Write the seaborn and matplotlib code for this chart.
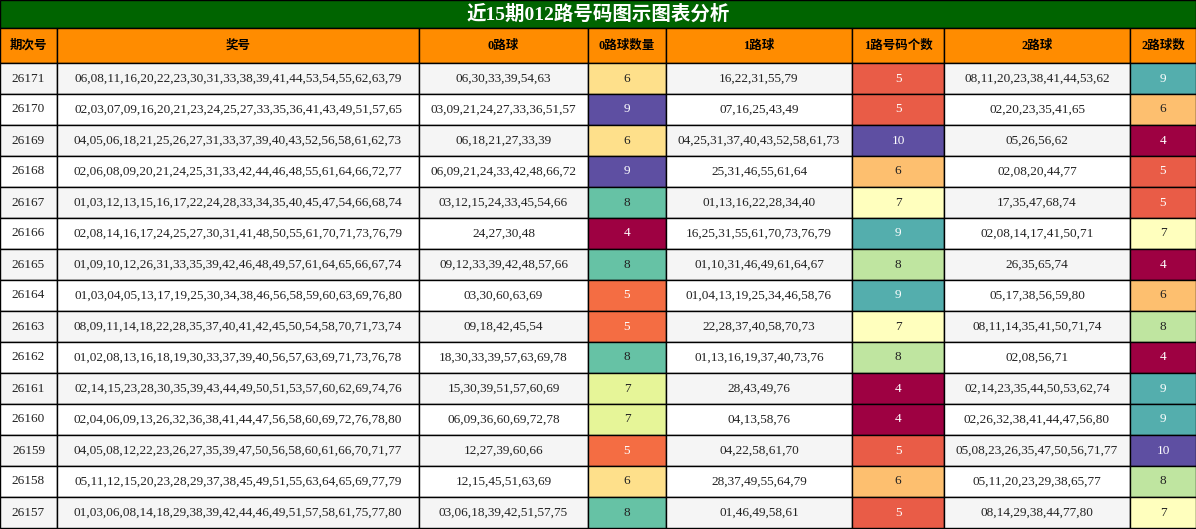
import numpy as np
import matplotlib
matplotlib.use("Agg")
import matplotlib.pyplot as plt
import seaborn as sns
from matplotlib.patches import Rectangle
from matplotlib.colors import Normalize

issues = [26171, 26170, 26169, 26168, 26167, 26166, 26165, 26164, 26163, 26162, 26161, 26160, 26159, 26158, 26157]
draws = [
    "06,08,11,16,20,22,23,30,31,33,38,39,41,44,53,54,55,62,63,79",
    "02,03,07,09,16,20,21,23,24,25,27,33,35,36,41,43,49,51,57,65",
    "04,05,06,18,21,25,26,27,31,33,37,39,40,43,52,56,58,61,62,73",
    "02,06,08,09,20,21,24,25,31,33,42,44,46,48,55,61,64,66,72,77",
    "01,03,12,13,15,16,17,22,24,28,33,34,35,40,45,47,54,66,68,74",
    "02,08,14,16,17,24,25,27,30,31,41,48,50,55,61,70,71,73,76,79",
    "01,09,10,12,26,31,33,35,39,42,46,48,49,57,61,64,65,66,67,74",
    "01,03,04,05,13,17,19,25,30,34,38,46,56,58,59,60,63,69,76,80",
    "08,09,11,14,18,22,28,35,37,40,41,42,45,50,54,58,70,71,73,74",
    "01,02,08,13,16,18,19,30,33,37,39,40,56,57,63,69,71,73,76,78",
    "02,14,15,23,28,30,35,39,43,44,49,50,51,53,57,60,62,69,74,76",
    "02,04,06,09,13,26,32,36,38,41,44,47,56,58,60,69,72,76,78,80",
    "04,05,08,12,22,23,26,27,35,39,47,50,56,58,60,61,66,70,71,77",
    "05,11,12,15,20,23,28,29,37,38,45,49,51,55,63,64,65,69,77,79",
    "01,03,06,08,14,18,29,38,39,42,44,46,49,51,57,58,61,75,77,80",
]
road0 = ["06,30,33,39,54,63", "03,09,21,24,27,33,36,51,57", "06,18,21,27,33,39", "06,09,21,24,33,42,48,66,72",
         "03,12,15,24,33,45,54,66", "24,27,30,48", "09,12,33,39,42,48,57,66", "03,30,60,63,69", "09,18,42,45,54",
         "18,30,33,39,57,63,69,78", "15,30,39,51,57,60,69", "06,09,36,60,69,72,78", "12,27,39,60,66",
         "12,15,45,51,63,69", "03,06,18,39,42,51,57,75"]
road1 = ["16,22,31,55,79", "07,16,25,43,49", "04,25,31,37,40,43,52,58,61,73", "25,31,46,55,61,64",
         "01,13,16,22,28,34,40", "16,25,31,55,61,70,73,76,79", "01,10,31,46,49,61,64,67", "01,04,13,19,25,34,46,58,76",
         "22,28,37,40,58,70,73", "01,13,16,19,37,40,73,76", "28,43,49,76", "04,13,58,76", "04,22,58,61,70",
         "28,37,49,55,64,79", "01,46,49,58,61"]
road2 = ["08,11,20,23,38,41,44,53,62", "02,20,23,35,41,65", "05,26,56,62", "02,08,20,44,77", "17,35,47,68,74",
         "02,08,14,17,41,50,71", "26,35,65,74", "05,17,38,56,59,80", "08,11,14,35,41,50,71,74", "02,08,56,71",
         "02,14,23,35,44,50,53,62,74", "02,26,32,38,41,44,47,56,80", "05,08,23,26,35,47,50,56,71,77",
         "05,11,20,23,29,38,65,77", "08,14,29,38,44,77,80"]
count0 = [6, 9, 6, 9, 8, 4, 8, 5, 5, 8, 7, 7, 5, 6, 8]
count1 = [5, 5, 10, 6, 7, 9, 8, 9, 7, 8, 4, 4, 5, 6, 5]
count2 = [9, 6, 4, 5, 5, 7, 4, 6, 8, 4, 9, 9, 10, 8, 7]
headers = ["期次号", "奖号", "0路球", "0路球数量", "1路球", "1路号码个数", "2路球", "2路球数"]
title = "近15期012路号码图示图表分析"

W, H = 1196, 529
edges = [0, 57, 419, 588, 666, 852, 944, 1130, 1196]
fam = ["Liberation Serif", "Noto Sans CJK SC"]
cmap = sns.color_palette("Spectral", as_cmap=True)

fig = plt.figure(figsize=(W / 100, H / 100), dpi=100)
ax = fig.add_axes([0, 0, 1, 1])
ax.set_xlim(0, W)
ax.set_ylim(H, 0)
ax.axis("off")

lw = 1.0
ax.add_patch(Rectangle((0, 0), W, 28, facecolor="#006400", edgecolor="black", lw=lw))
ax.text(W / 2, 14, title, ha="center", va="center", color="white", fontsize=14, fontweight="bold", family=fam)

hy, hh = 28, 35
for i, h in enumerate(headers):
    x0, x1 = edges[i], edges[i + 1]
    ax.add_patch(Rectangle((x0, hy), x1 - x0, hh, facecolor="#ff8c00", edgecolor="black", lw=lw))
    ax.text((x0 + x1) / 2, hy + hh / 2, h, ha="center", va="center", fontsize=9, fontweight="bold", family=fam)

counts = [count0, count1, count2]
norms = [Normalize(min(c), max(c)) for c in counts]
y0 = hy + hh
rh = (H - 1 - y0) / len(issues)
for r in range(len(issues)):
    bg = "#f5f5f5" if r % 2 == 0 else "white"
    texts = [str(issues[r]), draws[r], road0[r], str(count0[r]), road1[r], str(count1[r]), road2[r], str(count2[r])]
    y = y0 + r * rh
    for c in range(8):
        x0, x1 = edges[c], edges[c + 1]
        fc, tc = bg, "#222222"
        if c in (3, 5, 7):
            k = (c - 3) // 2
            rgba = cmap(norms[k](counts[k][r]))
            fc = rgba
            lum = 0.299 * rgba[0] + 0.587 * rgba[1] + 0.114 * rgba[2]
            tc = "white" if lum < 0.6 else "#222222"
        ax.add_patch(Rectangle((x0, y), x1 - x0, rh, facecolor=fc, edgecolor="black", lw=lw))
        ax.text((x0 + x1) / 2, y + rh / 2, texts[c], ha="center", va="center", fontsize=9.5, color=tc, family=fam)

fig.savefig("out.png", dpi=100)
